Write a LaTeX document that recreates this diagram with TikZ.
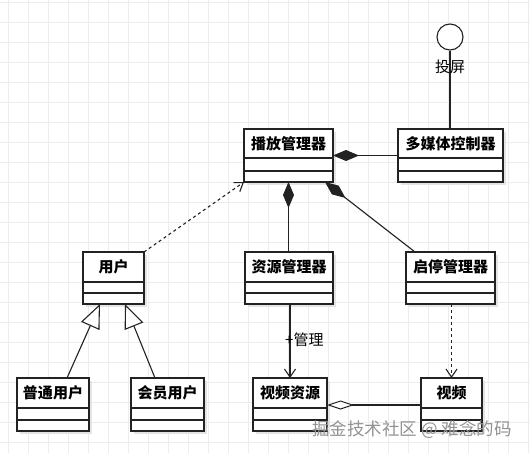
\documentclass[tikz,border=0pt]{standalone}
\usepackage{fontspec}
\setmainfont{Noto Sans CJK SC}
\usetikzlibrary{arrows.meta,fit}
\definecolor{gridc}{HTML}{ECECEC}
\definecolor{shadowc}{HTML}{E4E4E4}
\definecolor{linec}{HTML}{222222}
\tikzset{
  gridline/.style={draw=gridc, line width=0.8pt},
  clsbox/.style={draw=linec, line width=1.3pt, fill=white, inner sep=0pt, outer sep=0pt},
  clsline/.style={draw=linec, line width=1.2pt},
  clstitle/.style={font=\fontsize{15}{15}\selectfont\bfseries, inner sep=0pt, text=black},
  conn/.style={draw=linec, line width=1.1pt},
  dashconn/.style={conn, dash pattern=on 3pt off 3pt},
  compo/.style={{Diamond[length=26pt,width=11pt,fill=linec]}-},
  aggre/.style={{Diamond[length=27pt,width=9pt,fill=white,line width=1pt]}-},
  openarr/.style={-{Straight Barb[length=8pt,width=11pt,line width=1.1pt]}},
  genarr/.style={-{Triangle[length=24pt,width=20pt,fill=white,line width=1.1pt]}},
  lbl/.style={font=\fontsize{15}{15}\selectfont, inner sep=0pt, text=black},
  wmark/.style={font=\fontsize{17.5}{17.5}\selectfont, inner sep=0pt, text=gray!85}
}
\newcommand\umlcls[8]{%
  \fill[shadowc] (#2+3,#3+3) rectangle (#4+3,#7+3);
  \node[clsbox, fit={(#2,#3)(#4,#7)}] (#1) {};
  \draw[clsline] (#2,#5) -- (#4,#5);
  \draw[clsline] (#2,#6) -- (#4,#6);
  \node[clstitle] (#1-t) at ({(#2+#4)/2},{(#3+#5)/2}) {#8};
}
\begin{document}
\begin{tikzpicture}[x=1pt,y=-1pt]
\useasboundingbox (0,0) rectangle (530,453);
\fill[white] (0,0) rectangle (530,453);
\foreach \gx in {8,28,...,528} \draw[gridline] (\gx,0) -- (\gx,453);
\foreach \gy in {2,22,...,442} \draw[gridline] (0,\gy) -- (530,\gy);

% classes
\umlcls{play}{244}{129}{333}{158}{171}{182}{播放管理器}
\umlcls{mm}{398}{129}{503}{158}{171}{182}{多媒体控制器}
\umlcls{user}{83}{252}{144}{282}{293}{304}{用户}
\umlcls{res}{245}{252}{333}{282}{293}{304}{资源管理器}
\umlcls{qt}{406}{252}{495}{282}{293}{304}{启停管理器}
\umlcls{pt}{17}{378}{89}{408}{420}{431}{普通用户}
\umlcls{vip}{131}{378}{204}{408}{420}{431}{会员用户}
\umlcls{vres}{253}{378}{327}{408}{420}{431}{视频资源}
\umlcls{video}{421}{378}{482}{408}{420}{431}{视频}

% interface lollipop
\node[draw=linec, line width=1.1pt, circle, minimum size=26pt, inner sep=0pt, fill=white] (ifc) at (450,37) {};
\draw[conn] (ifc.south) -- (mm.north -| ifc.south);
\node[lbl] (ifcl) at (450,67) {投屏};

% compositions
\draw[conn, compo] (play.east) -- (mm.west);
\draw[conn, compo] (play.south) -- (res.north -| play.south);
\draw[conn, compo] ([xshift=-8pt]play.south east) -- ([xshift=9pt]qt.north west);

% dependency user -> play
\draw[dashconn, openarr] (user.north east) -- (play.south west);

% association res -> vres
\draw[conn, openarr] (res.south -| vres.north) -- (vres.north);
\node[lbl, anchor=west] (assoc) at (285,340) {+管理};

% dependency qt -> video
\draw[dashconn, openarr] (qt.south -| video.north) -- (video.north);

% aggregation
\coordinate (aggv) at (421,405);
\coordinate (aggr) at (327,405);
\draw[conn, aggre] (aggr) -- (aggv);

% generalizations
\coordinate (ptt) at (67,378);
\coordinate (vipt) at (155,378);
\coordinate (ug1) at (100,304);
\coordinate (ug2) at (125,304);
\draw[conn, genarr] (ptt) -- (ug1);
\draw[conn, genarr] (vipt) -- (ug2);

% watermark
\node[wmark, anchor=west] (wm) at (312,430) {掘金技术社区 @ 难念的码};
\end{tikzpicture}
\end{document}
